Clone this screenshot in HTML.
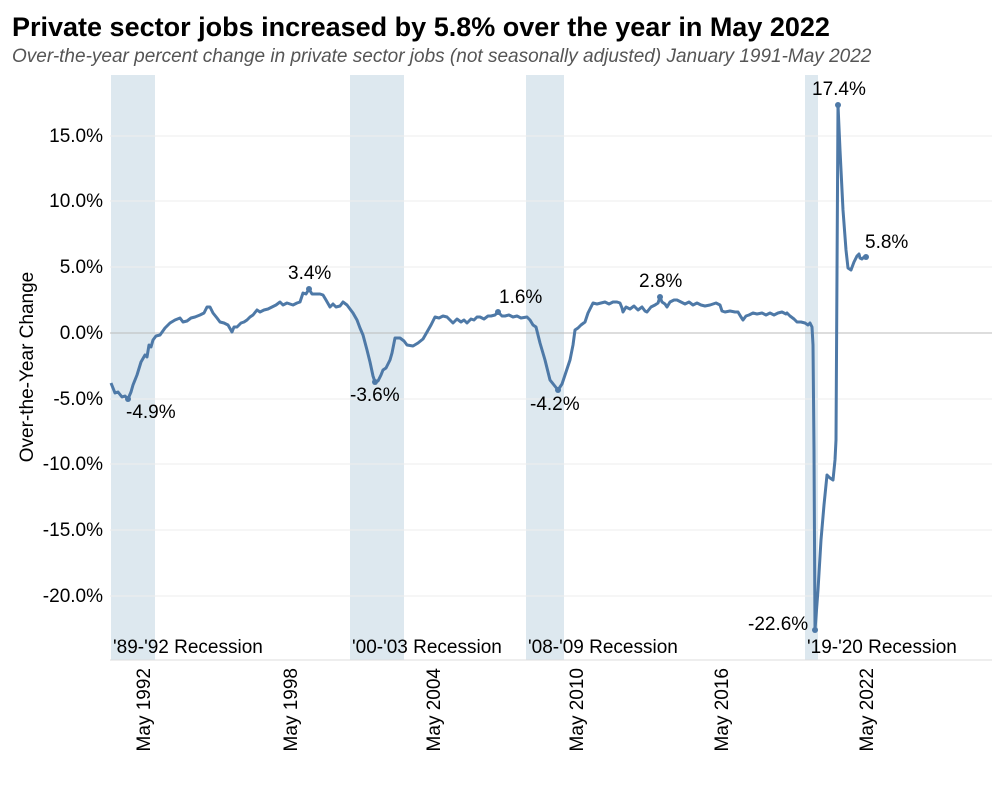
<!DOCTYPE html>
<html><head><meta charset="utf-8"><style>
body{margin:0;background:#fff;width:1000px;height:800px;overflow:hidden;font-family:"Liberation Sans",sans-serif}
</style></head><body>
<svg width="1000" height="800" xmlns="http://www.w3.org/2000/svg" font-family="Liberation Sans, sans-serif">
<text x="12" y="36" font-size="27" font-weight="bold" fill="#000">Private sector jobs increased by 5.8% over the year in May 2022</text>
<text x="12" y="62" font-size="19" font-style="italic" fill="#555">Over-the-year percent change in private sector jobs (not seasonally adjusted) January 1991-May 2022</text>
<g fill="#dde8ef">
<rect x="111" y="75" width="44" height="585"/>
<rect x="350" y="75" width="54" height="585"/>
<rect x="526" y="75" width="38" height="585"/>
<rect x="805" y="75" width="13" height="585"/>
</g>
<g stroke="#eeeeee" stroke-width="1">
<line x1="110" x2="992" y1="136" y2="136"/><line x1="110" x2="992" y1="201" y2="201"/>
<line x1="110" x2="992" y1="267" y2="267"/><line x1="110" x2="992" y1="399" y2="399"/>
<line x1="110" x2="992" y1="464" y2="464"/><line x1="110" x2="992" y1="530" y2="530"/>
<line x1="110" x2="992" y1="596" y2="596"/>
</g>
<line x1="110" x2="992" y1="333" y2="333" stroke="#bbb"/>
<line x1="110" x2="992" y1="660" y2="660" stroke="#ddd"/>
<g font-size="19" fill="#000" text-anchor="end">
<text x="103" y="142">15.0%</text><text x="103" y="207">10.0%</text><text x="103" y="273">5.0%</text>
<text x="103" y="339">0.0%</text><text x="103" y="405">-5.0%</text><text x="103" y="470">-10.0%</text>
<text x="103" y="536">-15.0%</text><text x="103" y="602">-20.0%</text>
</g>
<text transform="translate(33,367) rotate(-90)" font-size="19" text-anchor="middle">Over-the-Year Change</text>
<g font-size="19" text-anchor="end">
<text transform="translate(150,668) rotate(-90)">May 1992</text>
<text transform="translate(297,668) rotate(-90)">May 1998</text>
<text transform="translate(440,668) rotate(-90)">May 2004</text>
<text transform="translate(583,668) rotate(-90)">May 2010</text>
<text transform="translate(728,668) rotate(-90)">May 2016</text>
<text transform="translate(873,668) rotate(-90)">May 2022</text>
</g>
<g font-size="19">
<text x="113" y="653">'89-'92 Recession</text>
<text x="352" y="653">'00-'03 Recession</text>
<text x="528" y="653">'08-'09 Recession</text>
<text x="807" y="653">'19-'20 Recession</text>
</g>
<polyline fill="none" stroke="#4e79a7" stroke-width="3" stroke-linejoin="round" points="
111,383 115,393 118,392 122,397 125,396 128,399 131,392 133,385 137,375 141,362 145,355 147,357 149,345 151,347 153,340 156,336 160,335 165,328 170,323 175,320 180,318 183,322 187,321 191,318 195,317 200,315 204,313 207,307 210,307 213,313 217,318 220,322 224,323 228,325 232,332 234,327 237,327 241,323 244,322 247,320 250,317 253,315 257,310 260,312 264,310 268,309 272,307 276,305 280,302 283,305 287,303 290,304 293,305 297,303 300,302 303,293 306,294 309,289 312,294 316,294 320,294 323,295 326,300 330,307 333,304 336,307 340,306 343,302 347,305 350,309 353,313 357,320 360,328 363,335 367,350 370,362 373,376 375,382 378,381 381,375 383,370 386,368 390,360 392,353 395,338 400,338 404,341 407,345 413,346 418,343 423,339 427,332 431,325 435,317 439,318 443,316 447,317 450,320 453,323 457,319 461,322 464,320 467,323 471,319 474,320 477,317 480,317 484,319 488,316 491,316 495,315 498,312 502,316 505,316 509,315 513,317 517,316 521,318 527,317 530,320 533,325 536,327 540,343 545,360 550,380 554,385 558,390 562,384 566,372 570,360 573,345 575,330 578,328 581,325 585,322 588,313 591,307 593,303 597,304 601,303 605,302 609,304 613,302 617,302 620,303 622,308 623,312 626,307 630,309 634,306 638,310 642,307 645,311 647,312 651,307 655,305 658,303 660,297 662,302 665,304 667,307 670,302 674,300 677,300 681,302 685,304 689,302 693,305 697,303 701,305 705,306 710,305 716,303 720,305 722,311 725,312 730,311 735,312 738,312 741,317 743,320 746,316 749,315 753,313 757,314 762,313 766,315 770,313 774,315 778,313 782,312 786,314 787,313 790,316 794,319 797,322 801,322 805,323 808,325 810,323 812,327 813,345 814,450 815,630 818,590 821,540 824,505 827,475 830,478 833,480 835,460 836,440 838,105 840,150 843,210 846,250 848,268 851,270 854,262 857,256 859,254 860,258 862,259 864,257 866,257"/>
<g fill="#4e79a7"><circle cx="128" cy="399" r="3"/><circle cx="309" cy="289" r="3"/><circle cx="375" cy="382" r="3"/><circle cx="498" cy="312" r="3"/><circle cx="558" cy="390" r="3"/><circle cx="660" cy="297" r="3"/><circle cx="815" cy="630" r="3"/><circle cx="838" cy="105" r="3"/><circle cx="866" cy="257" r="3"/></g>
<g font-size="19" fill="#000">
<text x="126" y="418">-4.9%</text>
<text x="288" y="279">3.4%</text>
<text x="350" y="401">-3.6%</text>
<text x="499" y="303">1.6%</text>
<text x="530" y="410">-4.2%</text>
<text x="639" y="287">2.8%</text>
<text x="748" y="630">-22.6%</text>
<text x="812" y="95">17.4%</text>
<text x="865" y="248">5.8%</text>
</g>
</svg>
</body></html>
